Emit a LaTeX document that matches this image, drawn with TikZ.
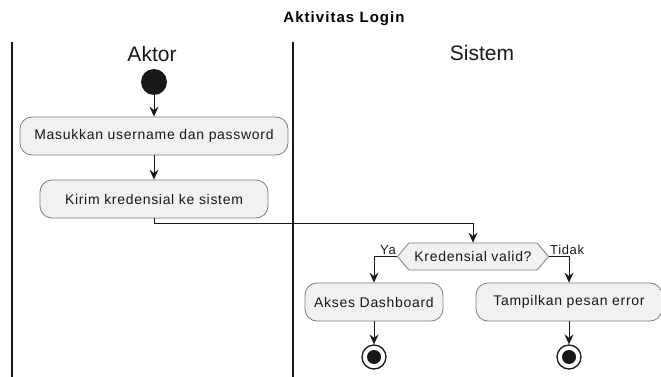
\documentclass[tikz,border=0pt]{standalone}
\usepackage{fontspec}
\setmainfont{Liberation Sans}
\newfontfamily\actfont[LetterSpace=5]{Liberation Sans}
\newfontfamily\headfont[LetterSpace=7]{Liberation Sans}
\usetikzlibrary{arrows.meta,shapes.symbols}

\definecolor{ink}{HTML}{181818}
\definecolor{boxfill}{HTML}{F1F1F1}
\definecolor{boxline}{HTML}{7D7D7D}

\begin{document}
\begin{tikzpicture}[x=1pt,y=-1pt,
  act/.style={draw=boxline, fill=boxfill, line width=0.8pt, rounded corners=12pt,
    minimum height=38pt, inner xsep=0pt, inner ysep=0pt,
    font=\actfont\fontsize{14}{16}\selectfont, text=ink},
  decide/.style={signal, signal to=west and east, signal pointer angle=100,
    draw=boxline, fill=boxfill, line width=0.8pt, minimum width=151pt,
    minimum height=27pt, inner xsep=0pt, inner ysep=0pt,
    font=\actfont\fontsize{14}{16}\selectfont, text=ink},
  flow/.style={draw=ink, line width=1pt, -{Stealth[length=10pt,width=9pt,inset=3.5pt]}},
  lane/.style={draw=ink, line width=1.4pt},
  lanetitle/.style={font=\fontsize{21}{24}\selectfont, text=ink},
  guard/.style={font=\actfont\fontsize{13}{15}\selectfont, text=ink, inner sep=1pt},
  startdot/.style={circle, fill=ink, minimum size=26pt, inner sep=0pt},
  enddot/.style={circle, draw=ink, line width=1.3pt, fill=white, minimum size=24pt, inner sep=0pt}]

\useasboundingbox (0,0) rectangle (661,377);

% heading
\node[font=\headfont\bfseries\fontsize{15}{17}\selectfont, text=black] (title) at (344,19) {Aktivitas Login};

% swimlanes
\coordinate (l1top) at (12,42);  \coordinate (l1bot) at (12,377);
\coordinate (l2top) at (293,42); \coordinate (l2bot) at (293,377);
\draw[lane] (l1top) -- (l1bot);
\draw[lane] (l2top) -- (l2bot);
\node[lanetitle] (aktor) at (152,54) {Aktor};
\node[lanetitle] (sistem) at (482,53) {Sistem};

% activities
\node[startdot] (start) at (154,82) {};
\node[act, minimum width=268pt] (masuk) at (154,136) {Masukkan username dan password};
\node[act, minimum width=228pt] (kirim) at (154,199) {Kirim kredensial ke sistem};
\node[decide] (valid) at (473,256.5) {Kredensial valid?};
\node[act, minimum width=138pt] (akses) at (374,302) {Akses Dashboard};
\node[act, minimum width=186pt] (tampil) at (569,302) {Tampilkan pesan error};
\node[enddot] (end1) at (374,357) {};
\node[enddot] (end2) at (569,357) {};
\fill[ink] (end1.center) circle (7pt);
\fill[ink] (end2.center) circle (7pt);

% guards
\node[guard, anchor=east] (ya) at (397,250) {Ya};
\node[guard, anchor=west] (tidak) at (549,250) {Tidak};

% flows
\draw[flow] (start) -- (masuk);
\draw[flow] (masuk) -- (kirim);
\draw[flow] (kirim.south) -- ++(0,5) -| (valid.north);
\draw[flow] (valid.west) -| (akses.north);
\draw[flow] (valid.east) -| (tampil.north);
\draw[flow] (akses) -- (end1);
\draw[flow] (tampil) -- (end2);
\end{tikzpicture}
\end{document}
